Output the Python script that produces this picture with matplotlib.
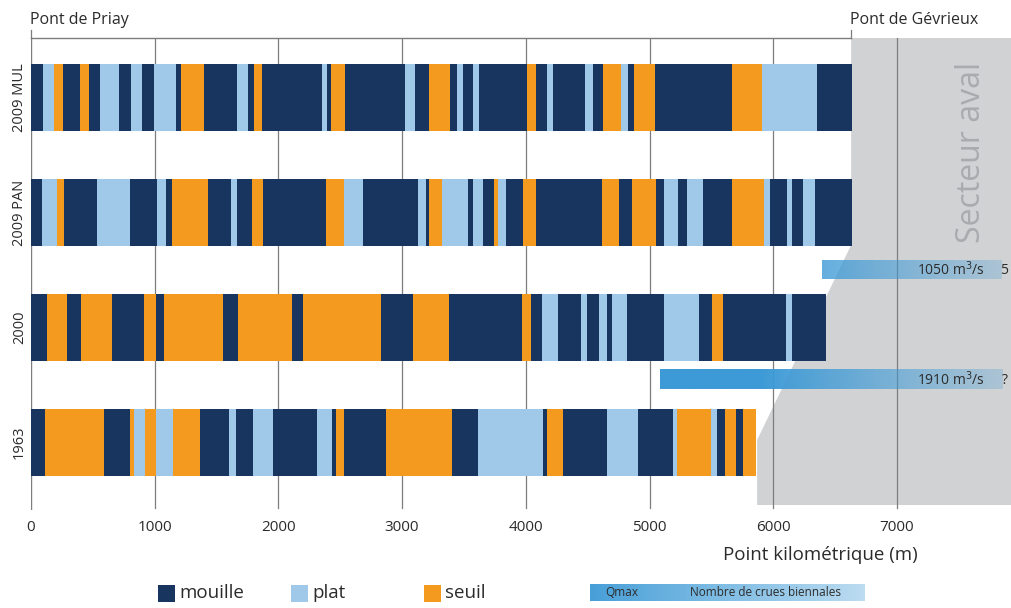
import numpy as np
import matplotlib
matplotlib.use("Agg")
import matplotlib.pyplot as plt
from matplotlib.patches import Rectangle, Polygon

plt.rcParams['font.family'] = ['Open Sans', 'DejaVu Sans']

# ---------------- data ----------------
rows = ["2009 MUL", "2009 PAN", "2000", "1963"]

mul_edges = [0, 95, 186, 256, 396, 469, 558, 714, 808, 900, 995, 1170, 1213, 1399, 1663, 1752,
             1803, 1865, 2355, 2390, 2423, 2539, 3024, 3105, 3220, 3388, 3447, 3495, 3576, 3624,
             4007, 4083, 4174, 4222, 4479, 4546, 4627, 4767, 4824, 4875, 5045, 5665, 5908, 6357, 6635]
mul_types = "MPSMSMPMPM" "PMSMPMSMPM" "SMPMSMPMPM" "SMPMPMSPMS" "MSPM"

pan_edges = [0, 92, 213, 270, 531, 800, 1021, 1089, 1143, 1434, 1614, 1663, 1790, 1873, 2385,
             2531, 2687, 3131, 3191, 3220, 3320, 3531, 3576, 3652, 3743, 3773, 3840, 3975, 4083,
             4619, 4757, 4857, 5053, 5118, 5234, 5302, 5436, 5665, 5929, 5975, 6110, 6150, 6239,
             6339, 6635]
pan_types = "MPSMPMPMSM" "PMSMSPMPMS" "PMPMSPMSMS" "MSMPMPMSPM" "PMPM"

y2000_edges = [0, 132, 294, 402, 652, 914, 1011, 1075, 1555, 1676, 2108, 2197, 2830, 3091, 3380,
               3967, 4043, 4134, 4263, 4444, 4498, 4595, 4654, 4700, 4816, 5118, 5401, 5509,
               5597, 6102, 6150, 6428]
y2000_types = "MSMSMSMSMS" "MSMSMSMPMP" "MPMPMPMSMP" "M"

y1963_edges = [0, 113, 593, 800, 833, 922, 1011, 1151, 1366, 1604, 1657, 1798, 1954, 2315, 2431,
               2466, 2531, 2868, 3406, 3612, 4143, 4175, 4304, 4655, 4905, 5193, 5220, 5498,
               5544, 5611, 5697, 5759, 5862]
y1963_types = "MSMSPSPSMP" "MPMPMSMSMP" "MSMPMPSPMS" "MS"

categories = ["mouille", "plat", "seuil"]
cat_codes = ["M", "P", "S"]

qmax_labels = ["1050 m$^3$/s", "1910 m$^3$/s"]
qmax_counts = ["5", "?"]
qmax_start = [6395, 5085]
qmax_end = [7850, 7850]

xticks = [0, 1000, 2000, 3000, 4000, 5000, 6000, 7000]
bridge_names = ["Pont de Priay", "Pont de Gévrieux"]
bridge_pos = [0, 6630]
aval_start_top = 6630
aval_start_bottom = 5870

# ---------------- style ----------------
colors = {"M": "#17355f", "P": "#9fc8e9", "S": "#f39a1f"}
gray_fill = "#d1d2d4"
grid_col = "#7d7d7d"
text_col = "#2b2b2b"

W, H = 1012, 608
fig = plt.figure(figsize=(W / 100, H / 100), dpi=100)
ax_left, ax_right, ax_top, ax_bottom = 31, 1012, 38, 510
ax = fig.add_axes([ax_left / W, 1 - ax_bottom / H, (ax_right - ax_left) / W, (ax_bottom - ax_top) / H])

px_per_unit = 115.0
row0_center = 97.5
y_top = -(row0_center - ax_top) / px_per_unit
y_bot = (ax_bottom - row0_center) / px_per_unit
ax.set_ylim(y_bot, y_top)
xmax = (ax_right - ax_left) / 123.7 * 1000
ax.set_xlim(0, xmax)

# gray "Secteur aval" polygon
y_break1 = (245 - row0_center) / px_per_unit
y_break2 = (440 - row0_center) / px_per_unit
y_poly_bottom = (505 - row0_center) / px_per_unit
poly = Polygon([(aval_start_top, y_top), (xmax + 200, y_top), (xmax + 200, y_poly_bottom),
                (aval_start_bottom, y_poly_bottom), (aval_start_bottom, y_break2),
                (aval_start_top, y_break1)], closed=True, facecolor=gray_fill,
               edgecolor="none", zorder=0, clip_on=False)
ax.add_patch(poly)

# grid
for xt in xticks[1:]:
    ax.plot([xt, xt], [y_top, (508 - row0_center) / px_per_unit], color=grid_col, lw=0.9, zorder=1)
ax.plot([0, 0], [y_top, (510 - row0_center) / px_per_unit], color=grid_col, lw=1.0, zorder=1)
ax.plot([0, aval_start_top], [y_top, y_top], color=grid_col, lw=1.0, zorder=1, clip_on=False)

# bars
bar_h = 67 / px_per_unit
row_data = [(mul_edges, mul_types), (pan_edges, pan_types),
            (y2000_edges, y2000_types), (y1963_edges, y1963_types)]
for i, (edges, types) in enumerate(row_data):
    e = np.array(edges, dtype=float)
    lefts = e[:-1]
    widths = np.diff(e)
    cols = [colors[t] for t in types]
    ax.barh(i, widths, left=lefts, height=bar_h, color=cols, edgecolor="none",
            linewidth=0, zorder=3)

# Qmax gradient bars
q_y = [(270 - row0_center) / px_per_unit, (380 - row0_center) / px_per_unit]
q_h = 19 / px_per_unit
base_rgb = np.array([0x3d, 0x9a, 0xd6]) / 255.0
for k in range(len(qmax_labels)):
    x0, x1 = qmax_start[k], qmax_end[k]
    xs = np.linspace(x0, x1, 300)
    alpha = np.clip(1 - (xs - 5900) / (x1 - 5900) * 0.75, 0.25, 1.0)
    img = np.zeros((1, len(xs), 4))
    img[0, :, :3] = base_rgb
    img[0, :, 3] = alpha
    ax.imshow(img, extent=[x0, x1, q_y[k] + q_h / 2, q_y[k] - q_h / 2], aspect="auto",
              interpolation="bilinear", zorder=4)
    ax.text(7710, q_y[k], qmax_labels[k], ha="right", va="center", fontsize=10,
            color=text_col, zorder=5)
    ax.text(7870, q_y[k], qmax_counts[k], ha="center", va="center", fontsize=10,
            color=text_col, zorder=5)

# Secteur aval label
ax.text(7600, (152 - row0_center) / px_per_unit, "Secteur aval", rotation=90, ha="center",
        va="center", fontsize=23, color="#a9abae", zorder=2)

# axes styling
for s in ax.spines.values():
    s.set_visible(False)
ax.set_yticks(range(len(rows)))
ax.set_yticklabels(rows, rotation=90, va="center", fontsize=10.5, color=text_col)
ax.tick_params(axis="y", length=0, pad=3)
ax.set_xticks(xticks)
ax.set_xticklabels([str(v) for v in xticks], fontsize=11, color=text_col)
ax.tick_params(axis="x", length=0, pad=7)
ax.set_xlabel("Point kilométrique (m)", fontsize=13.5, color=text_col)
ax.xaxis.set_label_coords((820 - ax_left) / (ax_right - ax_left), -(546 - ax_bottom) / (ax_bottom - ax_top))
ax.patch.set_alpha(0)

# bridge labels
for name, bx in zip(bridge_names, bridge_pos):
    ax.plot([bx, bx], [y_top - 8 / px_per_unit, y_top], color=grid_col, lw=0.9, clip_on=False)
    ax.text(bx - 10, y_top - 18 / px_per_unit, name, ha="left", va="center", fontsize=11.5,
            color=text_col, clip_on=False)

# legend
sq = 17
for i, (cat, code) in enumerate(zip(categories, cat_codes)):
    x0 = 158 + i * 133
    fig.add_artist(Rectangle((x0 / W, 1 - 602 / H), sq / W, sq / H, transform=fig.transFigure,
                             facecolor=colors[code], edgecolor="none"))
    fig.text((x0 + sq + 4) / W, 1 - 593 / H, cat, ha="left", va="center", fontsize=13.5,
             color=text_col)

# Qmax legend gradient
lax = fig.add_axes([590 / W, 1 - 601 / H, 275 / W, 17 / H])
lx = np.linspace(0, 1, 300)
limg = np.zeros((1, 300, 4))
limg[0, :, :3] = base_rgb
limg[0, :, 3] = np.clip(0.95 - lx * 0.6, 0.3, 1)
lax.imshow(limg, extent=[0, 1, 0, 1], aspect="auto", interpolation="bilinear")
lax.set_xlim(0, 1)
lax.set_ylim(0, 1)
lax.axis("off")
lax.text(15 / 275, 0.5, "Qmax", ha="left", va="center", fontsize=8.5, color=text_col)
lax.text(100 / 275, 0.5, "Nombre de crues biennales", ha="left", va="center", fontsize=8.5,
         color=text_col)

fig.savefig("out.png", dpi=100)
